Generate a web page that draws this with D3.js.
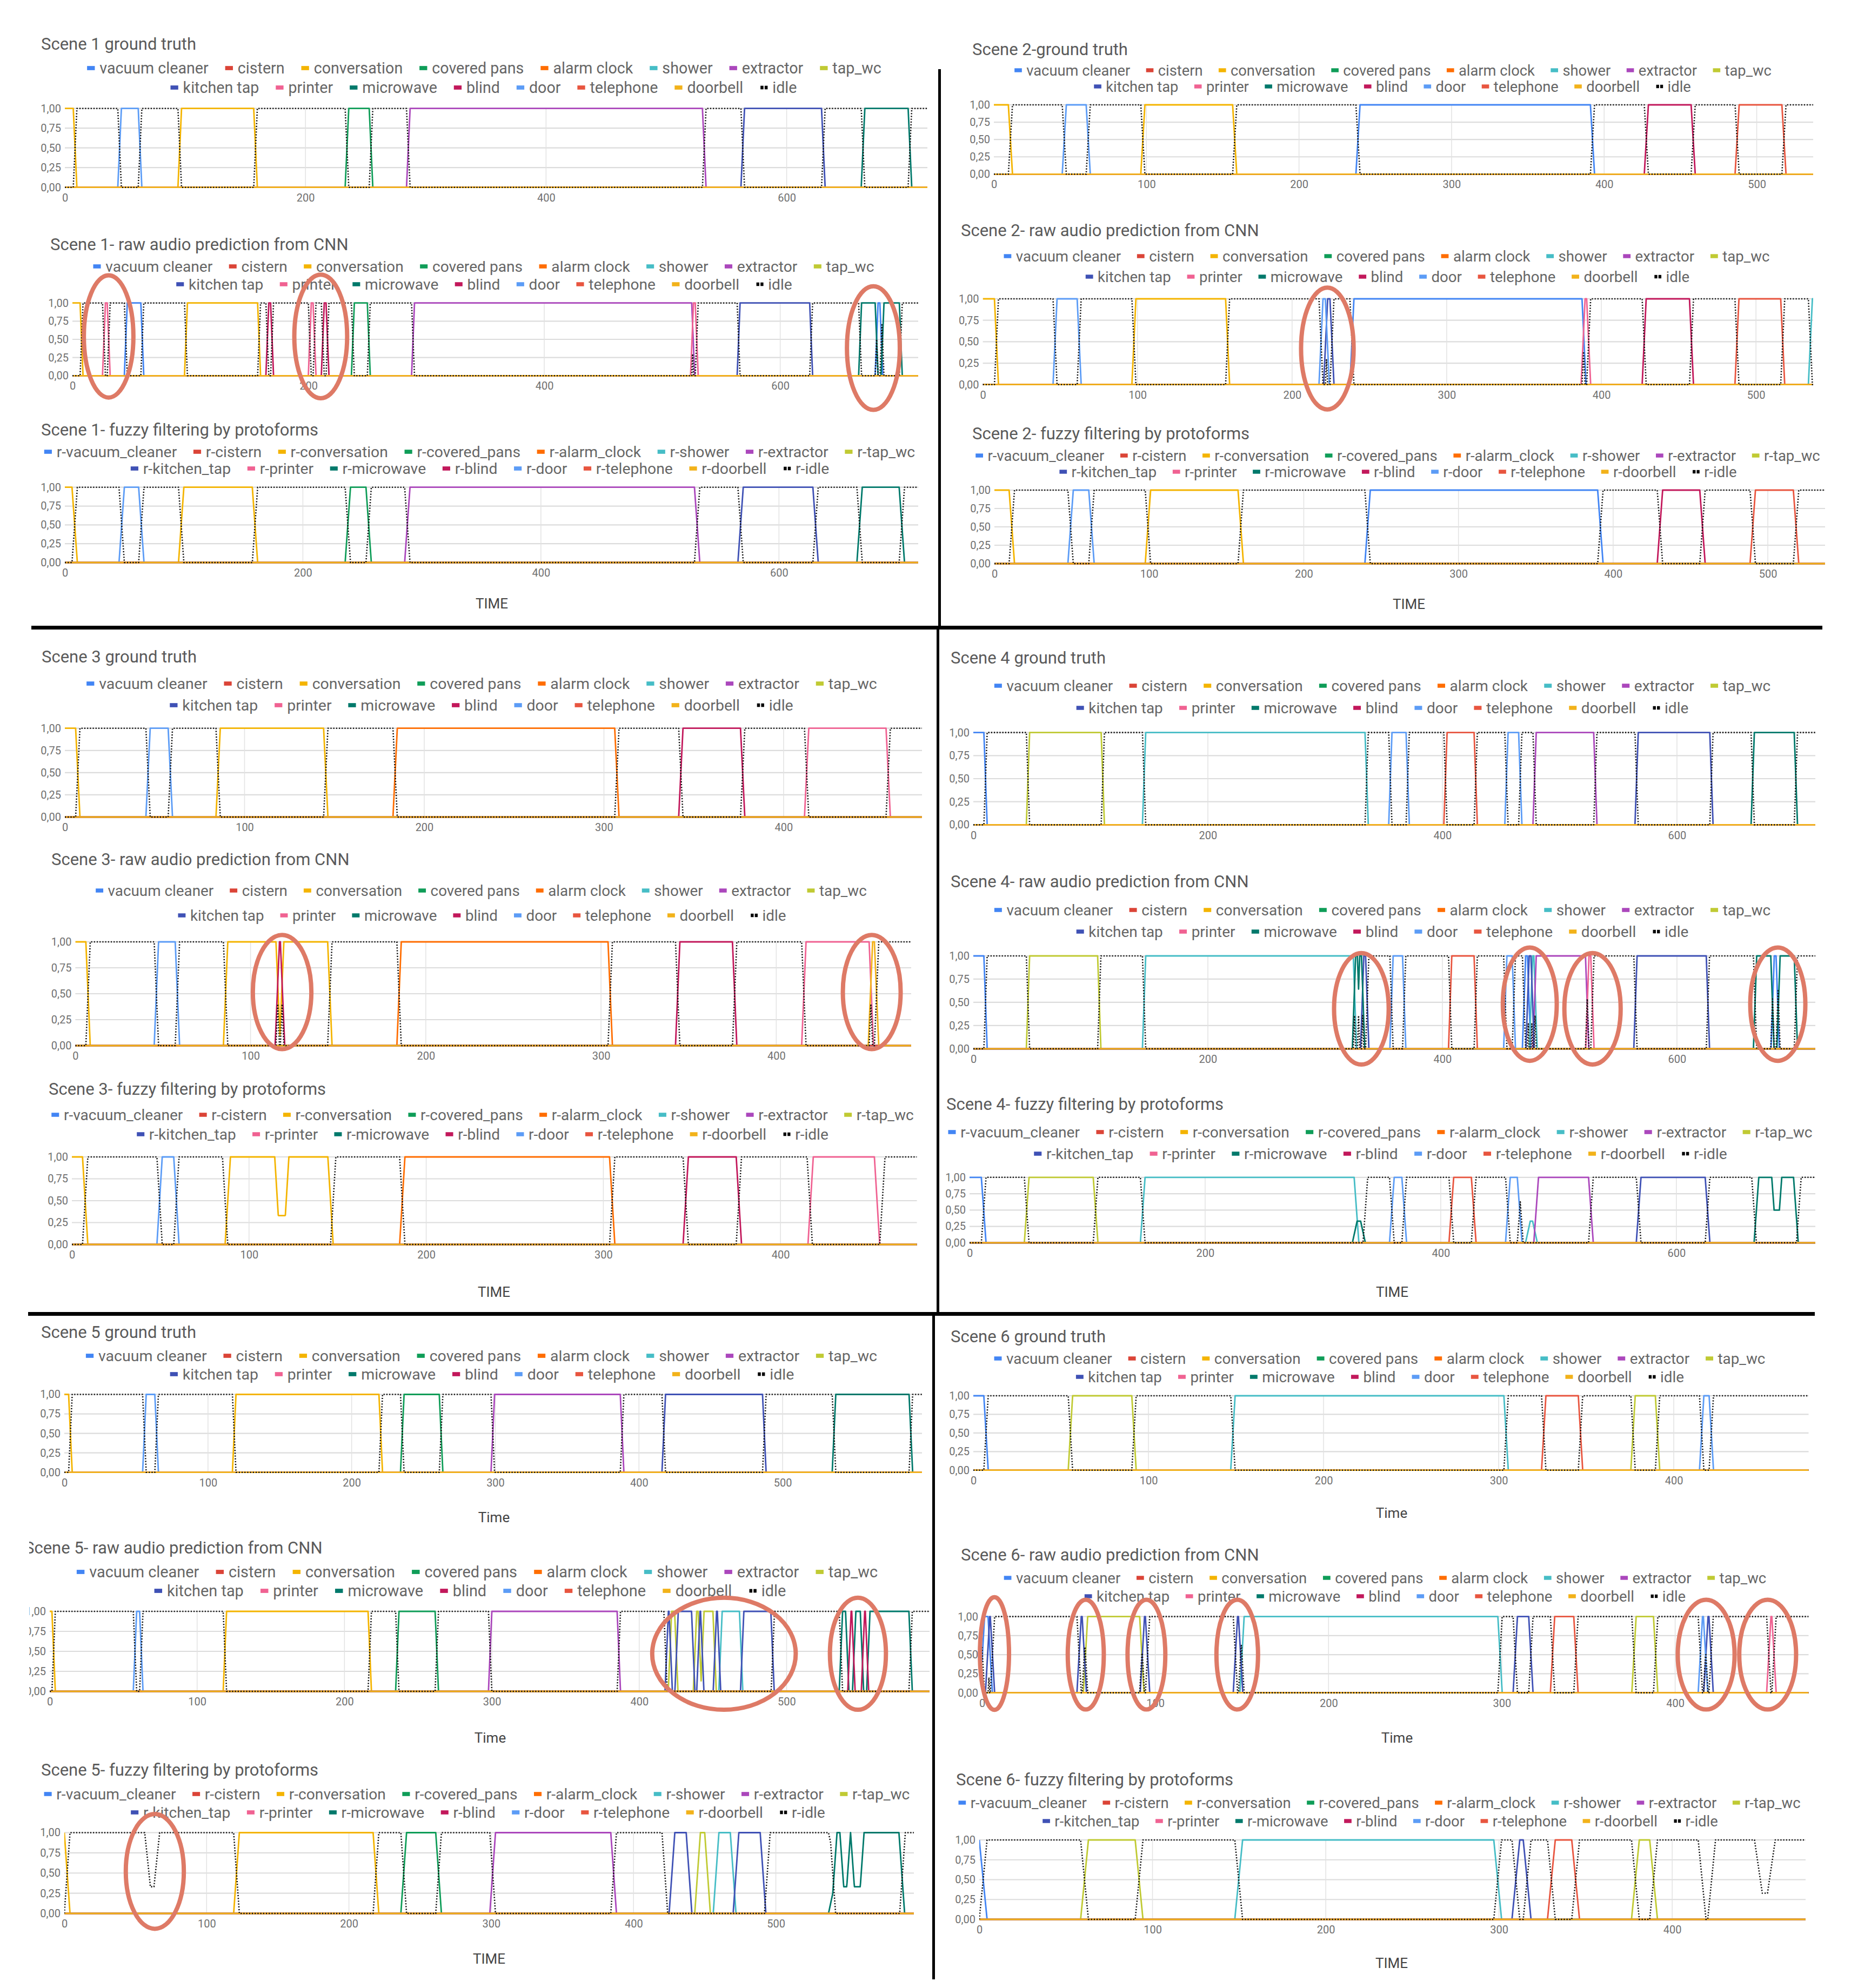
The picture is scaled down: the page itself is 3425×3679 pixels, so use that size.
<!DOCTYPE html>
<html><head><meta charset="utf-8">
<script src="https://cdn.jsdelivr.net/npm/d3@7"></script>
<style>
body{margin:0;background:#fff;}
svg{display:block;}
text{font-family:Roboto,"Noto Sans",Arial,sans-serif;}
</style>
</head><body>
<svg id="chart" width="3425" height="3679"></svg>
<script>
// ---------------- DATA ----------------
const seriesNames = ["vacuum cleaner","cistern","conversation","covered pans","alarm clock","shower","extractor","tap_wc","kitchen tap","printer","microwave","blind","door","telephone","doorbell","idle"];
const fuzzyNames = ["r-vacuum_cleaner","r-cistern","r-conversation","r-covered_pans","r-alarm_clock","r-shower","r-extractor","r-tap_wc","r-kitchen_tap","r-printer","r-microwave","r-blind","r-door","r-telephone","r-doorbell","r-idle"];
const seriesColors = ["#4285F4","#DB4437","#F4B400","#0F9D58","#FF6D01","#46BDC6","#AB47BC","#C0CA33","#3F51B5","#F06292","#00796B","#C2185B","#5C9CF6","#E8553F","#F2B21A","#000000"];
const yTickValues = [0, 0.25, 0.5, 0.75, 1];
const yTickLabels = ["0,00","0,25","0,50","0,75","1,00"];
const sceneLengths = [717, 537, 477, 718, 597, 477];
const sceneXTicks = [[0,200,400,600],[0,100,200,300,400,500],[0,100,200,300,400],[0,200,400,600],[0,100,200,300,400,500],[0,100,200,300,400]];
const rampTruth = [3, 2.7, 2.4, 2.8, 2.5, 2.5];
const rampRaw   = [2.5, 2.6, 2.5, 2.8, 2.3, 2.5];
const rampFuzzy = [4.5, 3.5, 3, 4, 4, 4.5];

// events: [series, start, end, level(optional, default 1)]; "idle" entries = explicit idle dips to level
const scene1Truth = [["conversation",0,7],["door",47,61],["conversation",97,157],["covered pans",236,253],["extractor",287,530],["kitchen tap",565,629],["microwave",665,701]];
const scene1Raw = [["conversation",0,6.5],["printer",28,29.5],["vacuum cleaner",46.5,58],["conversation",97.5,157],["blind",166.5,168],["printer",202.5,204],["blind",213.5,215],["covered pans",239,250],["extractor",290,525],["printer",526.5,528],["kitchen tap",566,625],["microwave",669,680.5],["vacuum cleaner",683,684.5],["microwave",688,701]];
const scene1Fuzzy = [["conversation",0,6],["door",50,62],["conversation",100,157.5],["covered pans",240,253],["extractor",290,529],["kitchen tap",570,628.5],["microwave",670,701]];

const scene2Truth = [["conversation",0,9.5],["door",47.5,60.5],["conversation",99,156.5],["vacuum cleaner",240,391],["blind",429,457],["telephone",488.5,516.5]];
const scene2Raw = [["conversation",0,7.5],["door",48,61],["conversation",99,157],["door",220,221.5],["kitchen tap",223,224.5],["vacuum cleaner",240,387.5],["printer",389.5,390.5],["blind",429,457],["telephone",489,516],["shower",536.5,560]];
const scene2Fuzzy = [["conversation",0,9.5],["door",51,61],["conversation",101,157.5],["vacuum cleaner",243,390],["blind",432,456],["telephone",492,516.5]];

const scene3Truth = [["conversation",0,6],["door",47.5,57.5],["conversation",86.5,144],["alarm clock",185,306],["blind",344,376],["printer",414,457]];
const scene3Raw = [["conversation",0,6],["door",47.5,57],["conversation",87,114.5],["blind",116.5,117],["conversation",119,144],["alarm clock",186,304],["blind",345,375],["printer",417,453],["doorbell",455,456]];
const scene3Fuzzy = [["conversation",0,6],["door",51,57.5],["conversation",89.5,114.5],["conversation",114.5,121,0.33],["conversation",122.5,144.5],["alarm clock",188,303.5],["blind",348,375],["printer",418.5,453],["idle",88,146,0],["idle",418,456,0]];

const scene4Truth = [["vacuum cleaner",0,9],["tap_wc",48,109],["shower",147,334],["door",357,369],["telephone",404,427],["door",456,465],["extractor",480,529],["kitchen tap",567,628],["microwave",666,700]];
const scene4Raw = [["vacuum cleaner",0,9],["tap_wc",48,106],["shower",147,324],["microwave",326,327.5],["microwave",329.5,331],["kitchen tap",333,334.5],["door",358,366],["telephone",408,427],["door",455,459.5],["vacuum cleaner",471,472.5],["kitchen tap",474,475.5],["shower",477,478],["extractor",480,522],["printer",525,526.5],["kitchen tap",566,625],["microwave",668,680],["vacuum cleaner",683,684.5],["microwave",688,700]];
const scene4Fuzzy = [["vacuum cleaner",0,10],["tap_wc",50.5,105],["shower",149,326.5],["microwave",329,332,0.33],["door",360.5,367],["telephone",411,426],["door",459,465],["shower",476,478,0.33],["extractor",483,525.5],["kitchen tap",570,624.5],["microwave",670,681],["microwave",681,689.5,0.5],["microwave",689.5,699.5],["idle",326,334,0],["idle",470,483,0],["idle",668,702,0]];

const scene5Truth = [["conversation",0,3],["door",57,63],["conversation",119.5,219],["covered pans",236.5,261],["extractor",299.5,387],["kitchen tap",418.5,486],["microwave",537,588]];
const scene5Raw = [["conversation",0,1.5],["door",59,61],["conversation",120,216],["covered pans",237,261.5],["extractor",300,385],["kitchen tap",419.8,420.2],["tap_wc",422,424],["kitchen tap",426.5,435.5],["tap_wc",439,440],["kitchen tap",441.3,441.6],["tap_wc",444,450],["kitchen tap",452.5,453],["shower",456.3,468],["kitchen tap",471,489.3],["microwave",538,540],["blind",543.8,544.2],["microwave",547,550],["blind",553,553.4],["microwave",556.6,583],["idle",419,489.5,0],["idle",538,583,0]];
const scene5Fuzzy = [["conversation",0,0],["idle",60.5,63,0.33],["conversation",123,217],["covered pans",240.5,261],["extractor",303,384],["kitchen tap",429,437],["tap_wc",447,450],["shower",460,468],["kitchen tap",474,489],["microwave",543,545],["microwave",552.5,552.5],["microwave",541,563,0.33],["microwave",562,586.5],["idle",424,492,0],["idle",542,587,0]];

const scene6Truth = [["vacuum cleaner",0,6],["tap_wc",56.7,90.5],["shower",149.5,303],["telephone",327,345.5],["tap_wc",378,389.5],["door",417.2,420.2]];
const scene6Raw = [["vacuum cleaner",1.5,3.5],["kitchen tap",4.5,4.8],["kitchen tap",57.3,57.8],["tap_wc",61,91],["kitchen tap",93.8,94.3],["kitchen tap",147.5,148],["shower",151.3,297.7],["kitchen tap",309,315.5],["telephone",330.5,341.5],["tap_wc",377.5,387.5],["door",415.8,416.3],["kitchen tap",419,419.5],["printer",455.3,455.8]];
const scene6Fuzzy = [["vacuum cleaner",0,0],["tap_wc",63,90],["shower",152,297],["kitchen tap",312,314],["telephone",332.5,342],["tap_wc",381,387],["idle",419.5,420.5,0],["idle",452,455,0.33]];

// red annotation ellipses: [panel index, time centre, time half-width, value centre, value half-height]
const annotationEllipses = [
  [1,30.7,21,0.54,0.84],[1,210.5,22.4,0.54,0.85],[1,679,22.4,0.38,0.85],
  [4,222.8,17,0.42,0.71],
  [7,118,16.7,0.516,0.55],[7,454.5,16.5,0.516,0.55],
  [10,330.9,23.3,0.43,0.6],[10,474.5,23,0.48,0.61],[10,528,24,0.43,0.6],[10,686,23.5,0.48,0.61],
  [13,457.5,48.7,0.47,0.7],[13,548.4,19,0.47,0.7],
  [14,63.6,20.4,0.52,0.71],
  [16,7.2,8.4,0.515,0.74],[16,59.9,10.4,0.5,0.72],[16,94.9,10.9,0.5,0.72],[16,147.3,12,0.5,0.72],[16,417.9,16.4,0.5,0.72],[16,453.4,16.4,0.5,0.72]
];

const eventsByKind = {
  truth:[scene1Truth,scene2Truth,scene3Truth,scene4Truth,scene5Truth,scene6Truth],
  raw:[scene1Raw,scene2Raw,scene3Raw,scene4Raw,scene5Raw,scene6Raw],
  fuzzy:[scene1Fuzzy,scene2Fuzzy,scene3Fuzzy,scene4Fuzzy,scene5Fuzzy,scene6Fuzzy]
};
const rampByKind = {truth:rampTruth, raw:rampRaw, fuzzy:rampFuzzy};

// ---------------- LAYOUT ----------------
const layout = [
 {scene:0,kind:"truth",title:"Scene 1 ground truth",tx:76,ty:92,leg:[[163,1629,126],[314,1476,162]],plot:[120,1716,200.7,346.7]},
 {scene:0,kind:"raw",title:"Scene 1- raw audio prediction from CNN",tx:93,ty:463,leg:[[174,1616,493],[325,1467,526]],plot:[134,1699,560.7,695.3]},
 {scene:0,kind:"fuzzy",title:"Scene 1- fuzzy filtering by protoforms",tx:76,ty:806,leg:[[84,1691,836],[240,1536,867]],plot:[120,1699,901.7,1041],axis:["TIME",910,1126]},
 {scene:1,kind:"truth",title:"Scene 2-ground truth",tx:1799,ty:102,leg:[[1880,3275,130],[2022,3131,160]],plot:[1839,3355,194,322.3]},
 {scene:1,kind:"raw",title:"Scene 2- raw audio prediction from CNN",tx:1778,ty:437,leg:[[1861,3271,474],[2006,3129,512]],plot:[1818.6,3355,553,711.7]},
 {scene:1,kind:"fuzzy",title:"Scene 2- fuzzy filtering by protoforms",tx:1799,ty:813,leg:[[1807,3366,843],[1959,3215,873]],plot:[1840,3377,907,1043],axis:["TIME",2607,1127]},
 {scene:2,kind:"truth",title:"Scene 3 ground truth",tx:77,ty:1226,leg:[[163,1620,1265],[312,1470,1305]],plot:[120,1706,1347.7,1512]},
 {scene:2,kind:"raw",title:"Scene 3- raw audio prediction from CNN",tx:95,ty:1601,leg:[[179,1602,1648],[328,1456,1694]],plot:[139.4,1686,1743,1935]},
 {scene:2,kind:"fuzzy",title:"Scene 3- fuzzy filtering by protoforms",tx:90,ty:2026,leg:[[98,1688,2063],[251,1535,2099]],plot:[133,1696.6,2141,2303],axis:["TIME",914,2400]},
 {scene:3,kind:"truth",title:"Scene 4 ground truth",tx:1759,ty:1228,leg:[[1842,3274,1269],[1990,3126,1310]],plot:[1801,3359,1355.6,1526.4]},
 {scene:3,kind:"raw",title:"Scene 4- raw audio prediction from CNN",tx:1759,ty:1642,leg:[[1842,3274,1684],[1990,3126,1724]],plot:[1801,3359,1769,1940.8]},
 {scene:3,kind:"fuzzy",title:"Scene 4- fuzzy filtering by protoforms",tx:1751,ty:2054,leg:[[1756,3352,2095],[1912,3197,2135]],plot:[1794,3359,2178.8,2299.8],axis:["TIME",2576,2400]},
 {scene:4,kind:"truth",title:"Scene 5 ground truth",tx:76,ty:2476,leg:[[161,1621,2509],[313,1471,2543]],plot:[119,1706,2580.5,2724.7],axis:["Time",914,2817]},
 {scene:4,kind:"raw",title:"Scene 5- raw audio prediction from CNN",tx:45,ty:2875,leg:[[135,1631,2909],[291,1449,2944]],plot:[92,1720,2982,3130],axis:["Time",907,3225],clipLeft:54},
 {scene:4,kind:"fuzzy",title:"Scene 5- fuzzy filtering by protoforms",tx:76,ty:3286,leg:[[83,1682,3320],[241,1528,3354]],plot:[119,1691,3391.5,3541],axis:["TIME",905,3634]},
 {scene:5,kind:"truth",title:"Scene 6 ground truth",tx:1759,ty:2484,leg:[[1842,3264,2514],[1989,3118,2548]],plot:[1801,3346.5,2583,2720.7],axis:["Time",2575,2809]},
 {scene:5,kind:"raw",title:"Scene 6- raw audio prediction from CNN",tx:1778,ty:2888,leg:[[1860,3266,2920],[2005,3121,2954]],plot:[1817,3346.5,2991.6,3132.6],axis:["Time",2585,3225]},
 {scene:5,kind:"fuzzy",title:"Scene 6- fuzzy filtering by protoforms",tx:1769,ty:3304,leg:[[1775,3330,3336],[1928,3180,3370]],plot:[1812,3341,3405,3552],axis:["TIME",2575,3642]}
];

const separators = [[1736,128,5,1033],[58,1158,3314,7],[1733,1165,5,1265],[52,2428,3306,7],[1725,2435,5,1228]];

// ---------------- DRAW ----------------
const svg = d3.select("#chart");
svg.append("rect").attr("width",3425).attr("height",3679).attr("fill","#fff");
const defs = svg.append("defs");

function trap(t, s, e, h, r) {
  if (t < s - r || t > e + r) return 0;
  if (t >= s && t <= e) return h;
  if (t < s) return h * (t - (s - r)) / r;
  return h * ((e + r) - t) / r;
}

function seriesPoints(events, name, ramp, dmax) {
  const own = events.filter(ev => ev[0] === name);
  if (name !== "idle" && own.length === 0) return [[0,0],[dmax,0]];
  const times = new Set();
  for (let k = 0; k <= dmax * 4; k++) times.add(k / 4);
  times.add(dmax);
  events.forEach(ev => [ev[1]-ramp, ev[1], ev[2], ev[2]+ramp].forEach(x => { if (x >= 0 && x <= dmax) times.add(x); }));
  const ts = Array.from(times).sort((a,b) => a-b);
  return ts.map(t => {
    if (name === "idle") {
      let m = 0;
      events.forEach(ev => {
        const lvl = ev.length > 3 ? ev[3] : (ev[0] === "idle" ? 0 : 1);
        const h = ev[0] === "idle" ? 1 - lvl : lvl;
        m = Math.max(m, trap(t, ev[1], ev[2], h, ramp));
      });
      return [t, Math.max(0, 1 - m)];
    }
    let v = 0;
    own.forEach(ev => { v = Math.max(v, trap(t, ev[1], ev[2], ev.length > 3 ? ev[3] : 1, ramp)); });
    return [t, v];
  });
}

function drawLegend(g, names, rows) {
  const base = 26, mW = 13, g1 = 8, g2 = 28;
  const rowItems = [names.slice(0,8), names.slice(8)];
  const meas = g.append("g").attr("font-size", base);
  const widths = rowItems.map(items => items.map(n => {
    const t = meas.append("text").text(n);
    return t.node().getComputedTextLength();
  }));
  meas.remove();
  const scales = rowItems.map((items, ri) => {
    const natural = widths[ri].reduce((a,w) => a + mW + g1 + w, 0) + (items.length - 1) * g2;
    return (rows[ri][1] - rows[ri][0]) / natural;
  });
  const s = (scales[0] + scales[1]) / 2;
  rowItems.forEach((items, ri) => {
    const natural = (widths[ri].reduce((a,w) => a + mW + g1 + w, 0) + (items.length - 1) * g2) * s;
    const cx = (rows[ri][0] + rows[ri][1]) / 2;
    let x = cx - natural / 2;
    const y = rows[ri][2];
    items.forEach((n, k) => {
      const idx = ri * 8 + k;
      if (idx === 15) {
        g.append("rect").attr("x", x + 1*s).attr("y", y - 3*s).attr("width", 5*s).attr("height", 6*s).attr("fill", "#000");
        g.append("rect").attr("x", x + 8*s).attr("y", y - 3*s).attr("width", 5*s).attr("height", 6*s).attr("fill", "#000");
      } else {
        g.append("rect").attr("x", x).attr("y", y - 3.5*s).attr("width", mW*s).attr("height", 7*s).attr("fill", seriesColors[idx]);
      }
      x += (mW + g1) * s;
      g.append("text").attr("x", x).attr("y", y + 9.3*s).attr("font-size", base*s).attr("fill", "#666").text(n);
      x += widths[ri][k] * s + g2 * s;
    });
  });
}

layout.forEach((p, pi) => {
  const g = svg.append("g");
  if (p.clipLeft) {
    defs.append("clipPath").attr("id","pclip"+pi).append("rect").attr("x",p.clipLeft).attr("y",p.ty-40).attr("width",3425).attr("height",400);
    g.attr("clip-path","url(#pclip"+pi+")");
  }
  const dmax = sceneLengths[p.scene];
  const [x0, x1, yT, yB] = p.plot;
  const x = d3.scaleLinear().domain([0, dmax]).range([x0, x1]);
  const y = d3.scaleLinear().domain([0, 1]).range([yB, yT]);

  g.append("text").attr("x", p.tx).attr("y", p.ty).attr("font-size", 31).attr("fill", "#5a5a5a").text(p.title);
  drawLegend(g, p.kind === "fuzzy" ? fuzzyNames : seriesNames, p.leg);

  g.selectAll(".hg").data(yTickValues.slice(1)).enter().append("line")
    .attr("x1", x0).attr("x2", x1).attr("y1", d => y(d)).attr("y2", d => y(d))
    .attr("stroke", "#dcdcdc").attr("stroke-width", 2.2);
  g.selectAll(".vg").data(sceneXTicks[p.scene].slice(1)).enter().append("line")
    .attr("x1", d => x(d)).attr("x2", d => x(d)).attr("y1", yT).attr("y2", yB)
    .attr("stroke", "#e2e2e2").attr("stroke-width", 1.5);

  const yAxis = d3.axisLeft(y).tickValues(yTickValues).tickFormat((d,i) => yTickLabels[i]).tickSize(0).tickPadding(7);
  const ya = g.append("g").attr("transform", `translate(${x0},0)`).call(yAxis);
  ya.select(".domain").remove();
  ya.selectAll("text").attr("font-size", 20).attr("fill", "#707070").attr("font-family","Roboto,Arial,sans-serif");
  const xAxis = d3.axisBottom(x).tickValues(sceneXTicks[p.scene]).tickFormat(d3.format("d")).tickSize(0).tickPadding(12);
  const xa = g.append("g").attr("transform", `translate(0,${yB})`).call(xAxis);
  xa.select(".domain").remove();
  xa.selectAll("text").attr("font-size", 20).attr("fill", "#707070").attr("font-family","Roboto,Arial,sans-serif");

  const cid = "plotclip" + pi;
  defs.append("clipPath").attr("id", cid).append("rect").attr("x", x0).attr("y", yT - 4).attr("width", x1 - x0).attr("height", yB - yT + 8);
  const lg = g.append("g").attr("clip-path", `url(#${cid})`);
  const events = eventsByKind[p.kind][p.scene];
  const ramp = rampByKind[p.kind][p.scene];
  const line = d3.line().x(d => x(d[0])).y(d => y(d[1]));
  seriesNames.forEach((name, si) => {
    const pts = seriesPoints(events, name, ramp, dmax);
    const path = lg.append("path").attr("d", line(pts)).attr("fill", "none")
      .attr("stroke", seriesColors[si]).attr("stroke-linejoin", "round");
    if (name === "idle") path.attr("stroke-width", 2.6).attr("stroke-dasharray", "2.2,3").attr("stroke", "#111");
    else path.attr("stroke-width", 2.8);
  });

  if (p.axis) {
    g.append("text").attr("x", p.axis[1]).attr("y", p.axis[2]).attr("text-anchor", "middle")
      .attr("font-size", 26).attr("fill", "#444").text(p.axis[0]);
  }
  p.xs = x; p.ys = y;
});

annotationEllipses.forEach(a => {
  const p = layout[a[0]];
  const pxPerUnit = (p.plot[1] - p.plot[0]) / sceneLengths[p.scene];
  const h = p.plot[3] - p.plot[2];
  svg.append("ellipse").attr("cx", p.xs(a[1])).attr("cy", p.ys(a[3]))
    .attr("rx", a[2] * pxPerUnit).attr("ry", a[4] * h)
    .attr("fill", "none").attr("stroke", "#DE7A66").attr("stroke-width", 8);
});

svg.selectAll(".sep").data(separators).enter().append("rect")
  .attr("x", d => d[0]).attr("y", d => d[1]).attr("width", d => d[2]).attr("height", d => d[3]).attr("fill", "#000");
</script>
</body></html>
